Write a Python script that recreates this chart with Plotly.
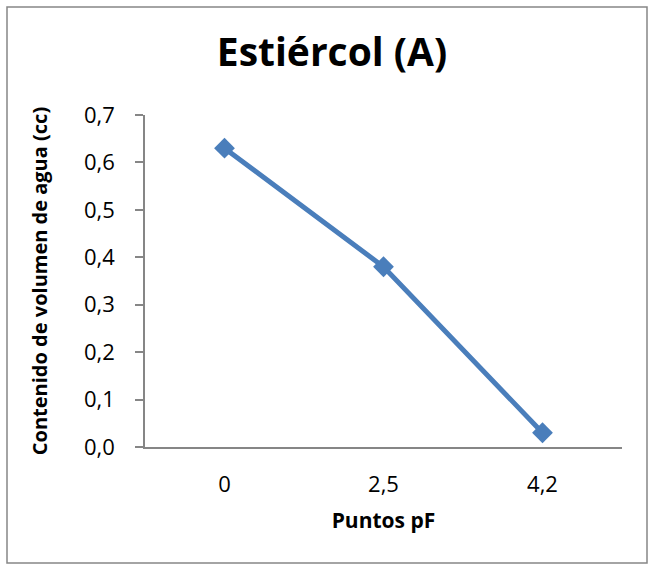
import plotly.graph_objects as go

# Water content at each pF point for the manure sample
puntos_pf = ["0", "2,5", "4,2"]
contenido_agua = [0.63, 0.38, 0.03]
y_ticks = [0.0, 0.1, 0.2, 0.3, 0.4, 0.5, 0.6, 0.7]
y_tick_labels = ["0,0", "0,1", "0,2", "0,3", "0,4", "0,5", "0,6", "0,7"]

FONT = "Open Sans"
AXIS_GRAY = "#868686"
SERIES_BLUE = "#4A7EBB"

W, H = 653, 572
L, R, T, B = 145, 31, 115, 125

fig = go.Figure(
    go.Scatter(
        x=puntos_pf,
        y=contenido_agua,
        mode="lines+markers",
        line=dict(color=SERIES_BLUE, width=5),
        marker=dict(symbol="diamond", size=16, color=SERIES_BLUE),
        cliponaxis=False,
        showlegend=False,
    )
)

plot_w = W - L - R
plot_h = H - T - B
# outer chart frame, expressed in paper coordinates of the plot area
fx0, fx1 = (7 - L) / plot_w, (W - 6 - L) / plot_w
fy1, fy0 = (H - B - 7) / plot_h, (H - B - (H - 9)) / plot_h

fig.update_layout(
    width=W,
    height=H,
    margin=dict(l=L, r=R, t=T, b=B, autoexpand=False),
    paper_bgcolor="white",
    plot_bgcolor="white",
    font=dict(family=FONT, color="black"),
    title=dict(
        text="<b>Estiércol (A)</b>",
        x=332 / W,
        xanchor="center",
        y=1 - 52 / H,
        yanchor="middle",
        font=dict(family=FONT, size=39, color="black"),
    ),
    shapes=[
        dict(
            type="rect",
            xref="paper",
            yref="paper",
            x0=fx0,
            x1=fx1,
            y0=fy0,
            y1=fy1,
            line=dict(color=AXIS_GRAY, width=1.5),
            layer="below",
        )
    ],
    xaxis=dict(
        type="category",
        range=[-0.5, 2.5],
        showline=True,
        linecolor=AXIS_GRAY,
        linewidth=1.5,
        showgrid=False,
        zeroline=False,
        ticks="",
        ticklabelstandoff=17,
        tickfont=dict(family=FONT, size=22, color="black"),
        title=dict(
            text="<b>Puntos pF</b>",
            font=dict(family=FONT, size=21, color="black"),
            standoff=16,
        ),
        automargin=False,
    ),
    yaxis=dict(
        range=[0, 0.7],
        tickvals=y_ticks,
        ticktext=y_tick_labels,
        showline=True,
        linecolor=AXIS_GRAY,
        linewidth=1.5,
        showgrid=False,
        zeroline=False,
        ticks="outside",
        ticklen=8,
        tickcolor=AXIS_GRAY,
        tickwidth=1.5,
        ticklabelstandoff=16,
        tickfont=dict(family=FONT, size=22, color="black"),
        title=dict(
            text="<b>Contenido de volumen de agua (cc)</b>",
            font=dict(family=FONT, size=20, color="black"),
            standoff=31,
        ),
        automargin=False,
    ),
)

fig.write_html("out.html")
